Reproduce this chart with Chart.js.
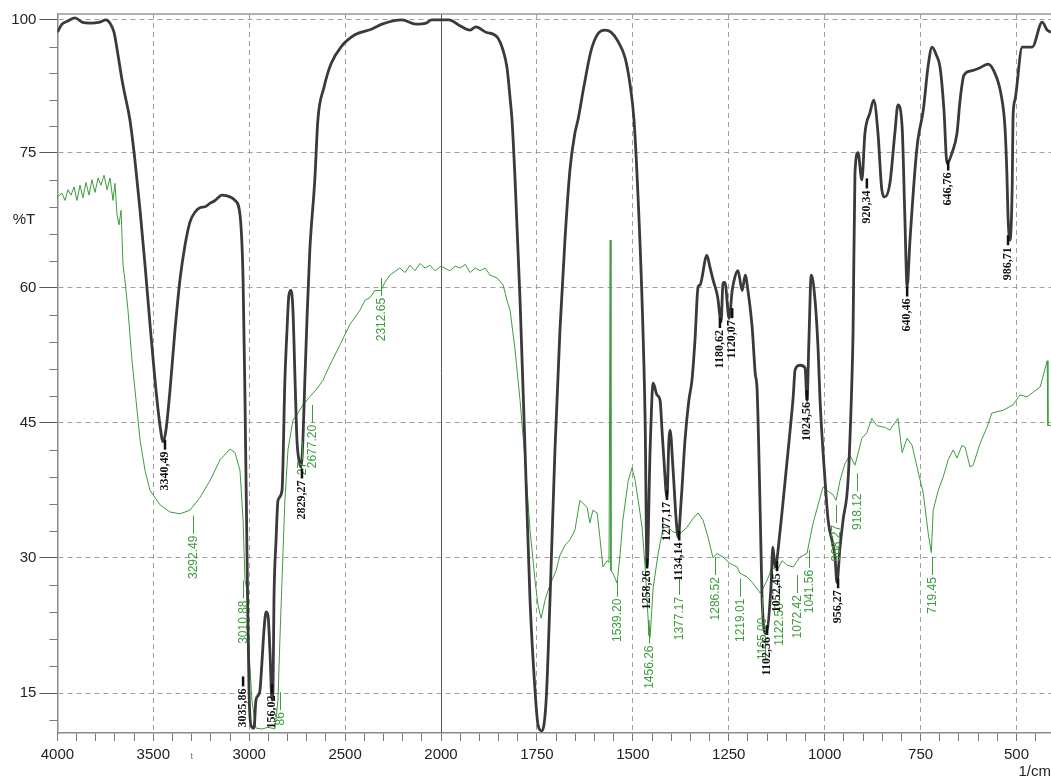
<!DOCTYPE html>
<html>
<head>
<meta charset="utf-8">
<script src="https://cdn.jsdelivr.net/npm/chart.js@4.4.1/dist/chart.umd.min.js"></script>
<style>
  html, body { margin: 0; padding: 0; background: #fff; }
  #wrap { width: 1051px; height: 778px; }
</style>
</head>
<body>
<div id="wrap"><canvas id="spectrum" width="1051" height="778"></canvas></div>
<script>
// [wavenumber 1/cm, %T]
const blackTrace = [
  [4000,97.7],[3976,99.2],[3945,99.8],[3908,100.4],[3872,99.6],[3830,99.4],[3778,99.6],[3747,100.0],
  [3726,99.4],[3705,97.7],[3684,93.4],[3663,88.7],[3648,85.9],[3622,81.2],[3596,74.2],[3569,68.6],
  [3543,62.5],[3517,55.9],[3491,49.7],[3465,44.7],[3449,42.9],[3434,44.2],[3413,48.6],[3387,55.3],
  [3361,60.9],[3335,64.7],[3309,67.3],[3283,68.4],[3257,68.9],[3230,69.0],[3204,69.4],[3178,69.7],
  [3142,70.3],[3100,70.1],[3074,69.7],[3048,68.1],[3032,60.9],[3022,47.5],[3011,29.7],[3001,15.3],
  [2991,11.4],[2975,11.1],[2965,14.2],[2954,14.7],[2944,15.3],[2933,18.6],[2923,22.0],[2912,24.0],
  [2902,23.6],[2892,19.7],[2881,14.2],[2876,15.3],[2871,25.3],[2860,32.0],[2850,36.4],[2829,37.5],
  [2814,49.7],[2803,55.3],[2793,59.2],[2782,59.7],[2772,57.5],[2761,49.7],[2751,43.1],[2741,40.9],
  [2730,40.1],[2720,43.1],[2710,49.7],[2699,56.4],[2684,64.2],[2658,72.0],[2642,81.2],[2611,87.2],
  [2574,91.7],[2522,94.9],[2449,97.2],[2360,98.3],[2308,99.2],[2204,100.0],[2131,99.2],[2079,99.4],
  [2048,100.0],[1979,100.0],[1953,99.0],[1924,98.1],[1909,98.7],[1883,97.7],[1854,96.8],[1838,94.2],
  [1828,91.0],[1820,85.3],[1815,81.2],[1807,72.0],[1794,58.6],[1781,42.0],[1768,25.3],[1755,15.3],
  [1747,11.4],[1737,10.8],[1726,14.2],[1716,25.3],[1703,42.0],[1690,55.3],[1677,65.3],[1664,73.1],
  [1651,78.7],[1643,81.2],[1627,87.7],[1609,94.2],[1591,97.4],[1572,98.1],[1557,97.7],[1539,96.0],
  [1520,92.8],[1507,87.7],[1497,81.2],[1486,69.7],[1476,58.6],[1468,45.3],[1463,29.0],[1455,42.0],
  [1447,49.4],[1437,48.1],[1429,47.5],[1424,44.2],[1419,40.9],[1411,36.7],[1406,43.1],[1403,44.2],
  [1395,39.7],[1387,34.2],[1382,32.3],[1374,36.4],[1364,43.1],[1354,47.5],[1346,49.7],[1338,54.2],
  [1330,60.1],[1325,60.3],[1307,63.6],[1299,62.3],[1291,60.9],[1279,59.0],[1270,56.2],[1265,60.5],
  [1260,60.6],[1249,56.6],[1241,59.7],[1234,61.2],[1226,61.9],[1215,59.7],[1207,61.4],[1200,59.7],
  [1189,55.6],[1181,50.5],[1176,48.6],[1168,35.0],[1163,25.3],[1153,21.6],[1140,26.7],[1135,31.2],
  [1129,29.0],[1116,33.1],[1103,38.6],[1090,44.2],[1082,47.9],[1077,50.9],[1064,51.4],[1051,51.1],
  [1046,47.5],[1041,54.2],[1035,61.4],[1025,58.6],[1017,53.1],[1012,47.5],[999,38.6],[991,34.2],
  [973,30.1],[968,27.3],[960,31.2],[952,34.2],[939,38.6],[929,49.7],[926,55.0],[921,72.7],
  [913,75.0],[903,72.0],[895,78.7],[882,82.5],[872,84.9],[861,78.7],[851,70.9],[843,70.1],
  [830,71.6],[817,78.7],[809,84.0],[798,79.8],[791,67.9],[785,60.1],[778,65.0],[764,73.4],
  [757,77.4],[743,83.0],[730,91.5],[720,94.9],[709,93.4],[699,91.0],[689,83.0],[681,73.8],
  [668,75.0],[655,78.7],[647,84.9],[637,89.6],[618,90.4],[595,91.0],[574,91.7],[559,90.4],
  [540,85.9],[530,79.8],[525,72.7],[522,67.9],[517,65.3],[511,71.6],[509,81.7],[504,84.9],
  [485,94.9],[459,94.9],[433,99.6],[420,98.1],[410,97.7]
];

const greenTrace = [
  [4000,70.1],[3976,70.5],[3960,69.7],[3945,70.9],[3929,70.3],[3913,71.2],[3898,69.7],[3882,71.4],
  [3867,70.0],[3851,71.7],[3835,70.3],[3820,72.0],[3804,70.6],[3788,72.2],[3773,71.4],[3757,72.5],
  [3741,70.9],[3726,72.2],[3710,69.7],[3700,71.6],[3689,68.1],[3679,67.0],[3668,68.6],[3658,62.5],
  [3648,60.9],[3632,57.5],[3611,51.9],[3590,47.5],[3569,43.1],[3543,39.7],[3517,37.5],[3465,35.9],
  [3413,35.1],[3361,34.9],[3309,35.3],[3257,36.7],[3204,38.6],[3152,40.9],[3100,42.1],[3074,41.7],
  [3048,39.7],[3032,34.2],[3022,27.5],[3011,26.4],[3001,19.7],[2986,14.2],[2965,11.1],[2933,11.0],
  [2902,11.2],[2866,11.0],[2850,14.2],[2840,20.9],[2829,27.5],[2814,36.4],[2798,42.0],[2772,45.3],
  [2746,46.1],[2720,47.0],[2684,47.9],[2647,48.8],[2616,49.7],[2580,51.4],[2528,53.6],[2476,55.9],
  [2423,57.5],[2397,58.6],[2371,58.9],[2345,59.7],[2313,59.7],[2293,60.6],[2267,61.4],[2215,62.2],
  [2188,61.7],[2162,62.5],[2136,61.9],[2110,62.7],[2083,62.2],[2058,62.5],[2031,61.9],[2000,62.4],
  [1977,61.9],[1963,62.4],[1950,62.2],[1937,62.6],[1924,61.7],[1911,62.2],[1898,61.9],[1885,62.2],
  [1872,61.4],[1854,61.1],[1838,60.3],[1828,58.6],[1820,57.5],[1807,53.1],[1794,47.5],[1781,40.9],
  [1768,33.1],[1755,27.5],[1747,24.7],[1739,23.3],[1729,25.3],[1721,26.4],[1711,27.5],[1700,28.6],
  [1690,30.3],[1677,31.4],[1664,32.0],[1651,33.1],[1638,36.4],[1619,35.6],[1612,33.9],[1604,35.3],
  [1593,35.0],[1586,32.3],[1578,29.0],[1567,29.7],[1562,29.5],[1559,65.3],[1557,28.6],[1552,28.3],
  [1541,27.2],[1533,30.5],[1526,34.2],[1512,38.6],[1502,40.0],[1494,38.6],[1486,36.4],[1476,33.4],
  [1468,29.0],[1460,23.1],[1458,21.4],[1455,21.2],[1447,26.7],[1434,30.5],[1421,33.4],[1408,33.4],
  [1395,32.9],[1377,32.7],[1359,33.4],[1343,34.4],[1330,35.0],[1317,34.2],[1304,32.3],[1291,30.0],
  [1281,30.5],[1265,30.1],[1247,29.4],[1228,29.0],[1221,28.3],[1202,27.9],[1187,27.2],[1168,26.1],
  [1161,26.6],[1150,27.5],[1137,29.0],[1124,28.6],[1111,29.7],[1098,29.2],[1082,29.0],[1064,30.1],
  [1046,30.5],[1030,33.9],[1012,36.7],[1004,37.9],[994,37.5],[978,37.0],[970,36.4],[960,38.6],
  [947,40.5],[934,41.4],[921,40.3],[913,41.6],[903,43.3],[890,43.9],[877,45.5],[864,44.7],
  [843,44.5],[830,44.2],[822,44.7],[809,45.5],[798,41.7],[785,43.3],[772,42.5],[757,39.7],
  [743,37.2],[730,32.7],[722,30.6],[717,35.3],[704,37.5],[691,39.0],[678,40.9],[665,42.0],
  [655,41.1],[642,42.5],[634,42.3],[621,40.1],[613,40.3],[595,42.7],[577,44.5],[564,46.1],
  [535,46.4],[509,47.0],[491,48.1],[472,47.9],[438,49.0],[420,51.9],[418,44.7],[410,44.7]
];

const blackPeakText = ['3340,49','3035,86','156,02','2829,27','1258,26','1277,17','1134,14','1180,62','1120,07',
  '1024,56','1102,56','1052,45','956,27','920,34','640,46','646,76','986,71'];
const blackPeakWn = [3439,3032,2881,2725,1463,1411,1379,1273,1241,1046,1150,1124,965,890,785,678,522];
const blackPeakT = [42.7,16.4,15.6,39.5,29.5,37.1,32.6,56.2,57.3,48.2,22.1,29.2,27.3,71.7,59.7,73.7,65.4];

const greenPeakText = ['3292.49','3010.88','2677.20','2312.65','1539.20','1456.26','1377.17','1286.52','1219.01',
  '1165.00','1122.50','1072.42','1041.56','968.27','918.12','719.45','86','27'];
const greenPeakWn = [3293,3032,2673,2313,1541,1458,1379,1286,1221,1163,1119,1072,1041,970,916,720,2840,2725];
const greenPeakT = [34.7,27.5,47.0,61.1,27.7,22.5,27.9,30.1,27.7,25.6,27.2,28.1,30.9,35.9,39.4,30.1,15.1,42.9];

const xMajor = [4000, 3500, 3000, 2500, 2000, 1750, 1500, 1250, 1000, 750, 500];
const yMajor = [100, 75, 60, 45, 30, 15];

// the x axis doubles its scale below 2000 1/cm, the y axis is squeezed above 75 %T
const tx = wn => wn >= 2000 ? 4000 - wn : 2000 + (2000 - wn) * 2;
const fromTx = t => t <= 2000 ? 4000 - t : 2000 - (t - 2000) / 2;
const ty = v => v <= 75 ? v : 75 + (v - 75) * 0.59;

function xTickList() {
  let list = [];
  for (let w = 4000; w >= 2000; w -= 100) list.push(w);
  for (let w = 1950; w >= 450; w -= 50) list.push(w);
  return list;
}

const FONT = '"Liberation Sans", Arial, sans-serif';

const extras = {
  id: 'extras',
  beforeDatasetsDraw(chart) {
    const {ctx, chartArea, scales: {x, y}} = chart;
    ctx.save();
    // solid line where the x scale changes
    let xb = Math.round(x.getPixelForValue(tx(2000))) + 0.5;
    ctx.strokeStyle = '#555';
    ctx.lineWidth = 1;
    ctx.beginPath();
    ctx.moveTo(xb, chartArea.top);
    ctx.lineTo(xb, chartArea.bottom);
    ctx.stroke();
    // top frame
    ctx.strokeStyle = '#999';
    ctx.lineWidth = 1.5;
    ctx.beginPath();
    ctx.moveTo(chartArea.left, chartArea.top);
    ctx.lineTo(chartArea.right, chartArea.top);
    ctx.stroke();
    // minor y ticks
    ctx.strokeStyle = '#777';
    ctx.lineWidth = 1;
    let majors = yMajor.map(ty).sort((a, b) => a - b);
    let minors = [12];
    for (let i = 0; i < majors.length - 1; i++) {
      let step = (majors[i + 1] - majors[i]) / 5;
      for (let k = 1; k < 5; k++) minors.push(majors[i] + step * k);
    }
    minors.forEach(v => {
      let py = Math.round(y.getPixelForValue(v)) + 0.5;
      ctx.beginPath();
      ctx.moveTo(chartArea.left - 8, py);
      ctx.lineTo(chartArea.left, py);
      ctx.stroke();
    });
    ctx.restore();
  },
  afterDatasetsDraw(chart) {
    const {ctx, scales: {x, y}} = chart;
    ctx.save();
    function tag(px, top, text) {
      ctx.save();
      ctx.translate(px, top);
      ctx.rotate(-Math.PI / 2);
      ctx.textAlign = 'right';
      ctx.textBaseline = 'middle';
      ctx.fillText(text, 0, 0);
      ctx.restore();
    }
    // green peak labels with leader lines
    ctx.strokeStyle = '#3c9c3c';
    ctx.fillStyle = '#3c9c3c';
    ctx.lineWidth = 1;
    ctx.font = '12px ' + FONT;
    greenPeakText.forEach((t, i) => {
      let px = Math.round(x.getPixelForValue(tx(greenPeakWn[i]))) + 0.5;
      let py = y.getPixelForValue(ty(greenPeakT[i]));
      ctx.beginPath();
      ctx.moveTo(px, py);
      ctx.lineTo(px, py + 18);
      ctx.stroke();
      tag(px, py + 20, t);
    });
    // black peak labels
    ctx.strokeStyle = '#111';
    ctx.fillStyle = '#111';
    ctx.lineWidth = 2.5;
    ctx.font = 'bold 12px "Liberation Serif", "DejaVu Serif", serif';
    blackPeakText.forEach((t, i) => {
      let px = x.getPixelForValue(tx(blackPeakWn[i]));
      let py = y.getPixelForValue(ty(blackPeakT[i]));
      ctx.beginPath();
      ctx.moveTo(px, py - 4);
      ctx.lineTo(px, py + 6);
      ctx.stroke();
      tag(px, py + 8, t);
    });
    // axis captions
    ctx.fillStyle = '#222';
    ctx.font = '15px ' + FONT;
    ctx.textAlign = 'center';
    ctx.textBaseline = 'middle';
    ctx.fillText('%T', 24, y.getPixelForValue(ty(67.5)));
    ctx.textAlign = 'right';
    ctx.fillText('1/cm', 1051, 772);
    ctx.fillStyle = '#777';
    ctx.font = '9px ' + FONT;
    ctx.textAlign = 'center';
    ctx.fillText('t', x.getPixelForValue(tx(3300)), 757);
    ctx.restore();
  }
};

const ctx = document.getElementById('spectrum').getContext('2d');
const chart = new Chart(ctx, {
  type: 'line',
  data: {
    datasets: [
      {
        label: 'black',
        data: blackTrace.map(p => ({x: tx(p[0]), y: ty(p[1])})),
        borderColor: '#3a3a3a',
        borderWidth: 2.8,
        pointRadius: 0,
        cubicInterpolationMode: 'monotone',
        fill: false
      },
      {
        label: 'green',
        data: greenTrace.map(p => ({x: tx(p[0]), y: ty(p[1])})),
        borderColor: '#3c9c3c',
        borderWidth: 1,
        pointRadius: 0,
        tension: 0,
        fill: false
      }
    ]
  },
  options: {
    responsive: false,
    animation: false,
    devicePixelRatio: 1,
    layout: { padding: { top: 14, right: 0, left: 0, bottom: 0 } },
    plugins: { legend: { display: false }, tooltip: { enabled: false } },
    scales: {
      x: {
        type: 'linear',
        min: tx(4000),
        max: tx(410),
        afterBuildTicks: s => { s.ticks = xTickList().map(w => ({value: tx(w)})); },
        afterFit: s => { s.height = 45; },
        ticks: {
          autoSkip: false,
          maxRotation: 0,
          padding: 5,
          color: '#222',
          font: { family: FONT, size: 15 },
          callback: v => {
            let wn = Math.round(fromTx(v));
            return xMajor.includes(wn) ? String(wn) : '';
          }
        },
        grid: {
          color: c => {
            let wn = Math.round(fromTx(c.tick.value));
            return (xMajor.includes(wn) && wn !== 2000) ? '#a0a0a0' : 'rgba(0,0,0,0)';
          },
          tickColor: '#777',
          tickLength: 8,
          lineWidth: 1
        },
        border: { display: true, color: '#8a8a8a', width: 1.5, dash: [5, 4] }
      },
      y: {
        type: 'linear',
        min: 10.56,
        max: 90.41,
        afterBuildTicks: s => { s.ticks = yMajor.map(v => ({value: ty(v)})); },
        afterFit: s => { s.width = 57.4; },
        ticks: {
          autoSkip: false,
          padding: 3,
          color: '#222',
          font: { family: FONT, size: 15 },
          callback: v => {
            let m = yMajor.find(t => Math.abs(ty(t) - v) < 0.01);
            return m === undefined ? '' : String(m);
          }
        },
        grid: {
          color: '#a0a0a0',
          tickColor: '#555',
          tickLength: 18,
          lineWidth: 1
        },
        border: { display: true, color: '#8a8a8a', width: 1.5, dash: [5, 4] }
      }
    }
  },
  plugins: [extras]
});
</script>
</body>
</html>
